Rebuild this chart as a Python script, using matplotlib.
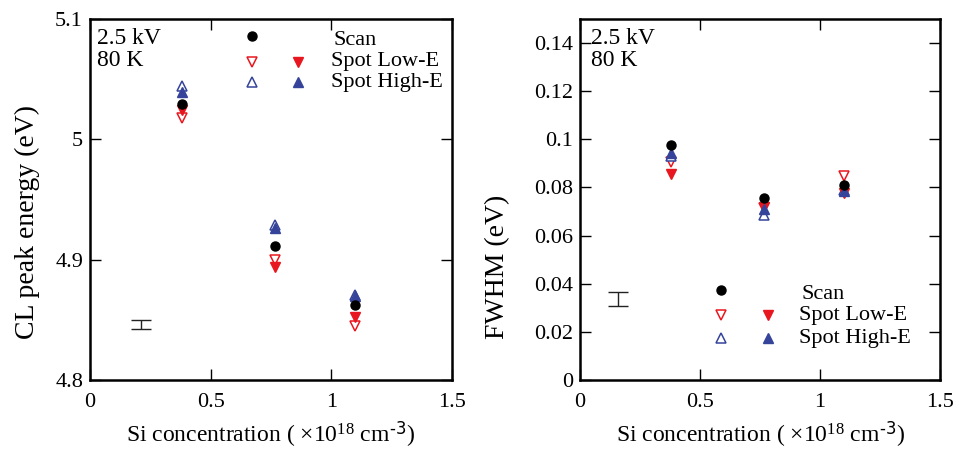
import numpy as np
import matplotlib
matplotlib.use("Agg")
import matplotlib.pyplot as plt
from matplotlib.ticker import FuncFormatter

plt.rcParams['font.family'] = ['Liberation Serif', 'DejaVu Serif']
plt.rcParams['mathtext.default'] = 'regular'
plt.rcParams['font.size'] = 16

# Si concentration (x1e18 cm^-3)
si_conc = [0.38, 0.765, 1.10]

# CL peak energy (eV)
peak_scan = [5.029, 4.911, 4.862]
peak_low_open = [5.018, 4.900, 4.845]
peak_low_fill = [5.024, 4.894, 4.852]
peak_high_open = [5.044, 4.929, 4.871]
peak_high_fill = [5.039, 4.926, 4.870]
peak_err_x, peak_err_y, peak_err = 0.21, 4.846, 0.0035

# FWHM (eV)
fwhm_scan = [0.0975, 0.0755, 0.0809]
fwhm_low_open = [0.0905, 0.0715, 0.0846]
fwhm_low_fill = [0.0855, 0.0720, 0.0776]
fwhm_high_open = [0.0930, 0.0685, 0.0790]
fwhm_high_fill = [0.0942, 0.0712, 0.0784]
fwhm_err_x, fwhm_err_y, fwhm_err = 0.158, 0.0336, 0.003

RED = '#e8171f'
BLUE = '#35449a'
xlabel = 'Si concentration ( \u00d710$^{18}$ cm$^{\\text{-3}}$)'

fig = plt.figure(figsize=(9.59, 4.55), dpi=100)
ax1 = fig.add_axes([0.0938, 0.1648, 0.3775, 0.7934])
ax2 = fig.add_axes([0.6048, 0.1648, 0.3754, 0.7934])

fmt = FuncFormatter(lambda v, p: '%g' % round(v, 4))


def draw(ax, scan, lo, lf, ho, hf, ex, ey, ee):
    ax.plot(si_conc, lo, 'v', ms=7.5, mfc='white', mec=RED, mew=1.1, ls='none')
    ax.plot(si_conc, ho, '^', ms=7.5, mfc='white', mec=BLUE, mew=1.1, ls='none')
    ax.plot(si_conc, lf, 'v', ms=7.5, color=RED, ls='none')
    ax.plot(si_conc, hf, '^', ms=7.5, color=BLUE, ls='none')
    ax.plot(si_conc, scan, 'o', ms=6.5, color='black', ls='none')
    ax.errorbar([ex], [ey], yerr=[ee], fmt='none', ecolor='#222222',
                elinewidth=1, capsize=7, capthick=1)
    for s in ax.spines.values():
        s.set_linewidth(1.8)
    ax.tick_params(direction='in', length=8, width=1, top=True, right=True,
                   labelsize=16, pad=5)
    ax.tick_params(axis='x', pad=9)
    ax.xaxis.set_major_formatter(fmt)
    ax.yaxis.set_major_formatter(fmt)
    ax.set_xlim(0, 1.5)
    ax.set_xticks([0, 0.5, 1, 1.5])
    ax.set_xlabel(xlabel, fontsize=17, labelpad=6)
    ax.text(0.02 if ax is ax1 else 0.03, 0.975, '2.5 kV\n80 K',
            transform=ax.transAxes, va='top', ha='left', fontsize=17,
            linespacing=1.05)


def legend(ax, mx1, mx2, tx, rows):
    tr = ax.transAxes
    ax.plot([mx1], [rows[0]], 'o', ms=6.5, color='black', transform=tr, clip_on=False)
    ax.plot([mx1], [rows[1]], 'v', ms=7.5, mfc='white', mec=RED, mew=1.1, transform=tr)
    ax.plot([mx2], [rows[1]], 'v', ms=7.5, color=RED, transform=tr)
    ax.plot([mx1], [rows[2]], '^', ms=7.5, mfc='white', mec=BLUE, mew=1.1, transform=tr)
    ax.plot([mx2], [rows[2]], '^', ms=7.5, color=BLUE, transform=tr)
    ax.text(tx + 0.008, rows[0] - 0.012, 'Scan', transform=tr, va='center', fontsize=16)
    ax.text(tx, rows[1], 'Spot Low-E', transform=tr, va='center', fontsize=16)
    ax.text(tx, rows[2], 'Spot High-E', transform=tr, va='center', fontsize=16)


draw(ax1, peak_scan, peak_low_open, peak_low_fill, peak_high_open, peak_high_fill,
     peak_err_x, peak_err_y, peak_err)
ax1.set_ylim(4.8, 5.1)
ax1.set_yticks([4.8, 4.9, 5.0, 5.1])
ax1.set_ylabel('CL peak energy (eV)', fontsize=20)
ax1.yaxis.set_label_coords(-0.138, 0.438)
legend(ax1, 0.448, 0.575, 0.665, [0.953, 0.881, 0.825])

draw(ax2, fwhm_scan, fwhm_low_open, fwhm_low_fill, fwhm_high_open, fwhm_high_fill,
     fwhm_err_x, fwhm_err_y, fwhm_err)
ax2.set_ylim(0, 0.15)
ax2.set_yticks(np.arange(0, 0.141, 0.02))
ax2.set_ylabel('FWHM (eV)', fontsize=20)
ax2.yaxis.set_label_coords(-0.194, 0.313)
legend(ax2, 0.392, 0.522, 0.608, [0.249, 0.180, 0.116])

fig.savefig('out.png', dpi=100)
